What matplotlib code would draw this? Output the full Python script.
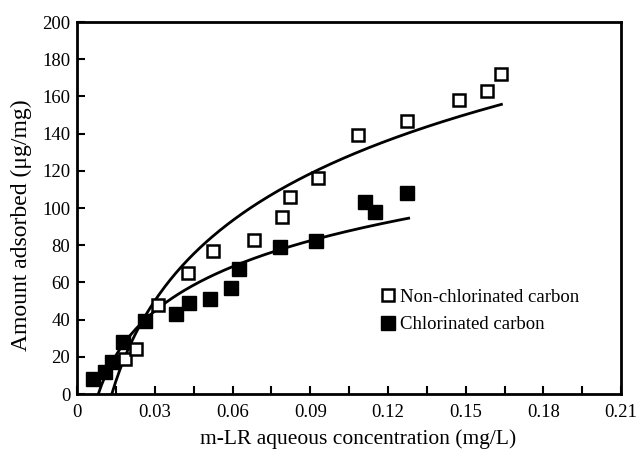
import numpy as np
import matplotlib
matplotlib.use("Agg")
import matplotlib.pyplot as plt
from matplotlib.ticker import MultipleLocator, FuncFormatter

plt.rcParams['font.family'] = ['Liberation Serif', 'DejaVu Serif']

# measured isotherm points (x: mg/L, y: ug/mg)
non_x = [0.0186, 0.0227, 0.0314, 0.0430, 0.0524, 0.0682, 0.0792, 0.0823,
         0.0929, 0.1083, 0.1274, 0.1474, 0.1584, 0.1635]
non_y = [19, 24, 48, 65, 77, 83, 95, 106, 116, 139, 147, 158, 163, 172]

chl_x = [0.0061, 0.0108, 0.0134, 0.0179, 0.0263, 0.0383, 0.0433, 0.0514,
         0.0594, 0.0624, 0.0782, 0.0923, 0.1113, 0.1152, 0.1274]
chl_y = [8, 12, 17, 28, 39, 43, 49, 51, 57, 67, 79, 82, 103, 98, 108]

# Temkin fits: q = A * ln(C / C0)
non_A, non_C0, non_end = 62.2, 0.0134, 0.1638
chl_A, chl_C0, chl_end = 34.4, 0.0082, 0.1280

fig = plt.figure(figsize=(6.37, 4.5), dpi=100)
ax = fig.add_axes([0.121, 0.1244, 0.854, 0.8267])

xs = np.linspace(non_C0, non_end, 200)
ax.plot(xs, non_A * np.log(xs / non_C0), color='black', lw=2)
xs = np.linspace(chl_C0, chl_end, 200)
ax.plot(xs, chl_A * np.log(xs / chl_C0), color='black', lw=2)

ax.plot(non_x, non_y, 's', ms=9, mfc='white', mec='black', mew=1.8,
        label='Non-chlorinated carbon', clip_on=False)
ax.plot(chl_x, chl_y, 's', ms=10, mfc='black', mec='black',
        label='Chlorinated carbon', clip_on=False)

ax.set_xlim(0, 0.21)
ax.set_ylim(0, 200)
ax.xaxis.set_major_locator(MultipleLocator(0.03))
ax.xaxis.set_minor_locator(MultipleLocator(0.015))
ax.yaxis.set_major_locator(MultipleLocator(20))
ax.xaxis.set_major_formatter(FuncFormatter(lambda v, p: '0' if abs(v) < 1e-9 else '%.2f' % v))
ax.tick_params(which='both', direction='in', top=False, right=False,
               labelsize=13.5, width=1.5, length=6)
ax.tick_params(axis='x', pad=7)
ax.tick_params(axis='y', pad=5)
for s in ax.spines.values():
    s.set_linewidth(2)

ax.set_xlabel('m-LR aqueous concentration (mg/L)', fontsize=15.5)
ax.xaxis.set_label_coords(0.517, -0.095)
ax.set_ylabel('Amount adsorbed (μg/mg)', fontsize=17)
ax.yaxis.set_label_coords(-0.082, 0.454)

ax.legend(loc='center left', bbox_to_anchor=(0.546, 0.2235), frameon=False,
          fontsize=13.5, handlelength=0.7, handletextpad=0.3, labelspacing=0.55,
          borderaxespad=0)

fig.savefig('out.png', dpi=100)
